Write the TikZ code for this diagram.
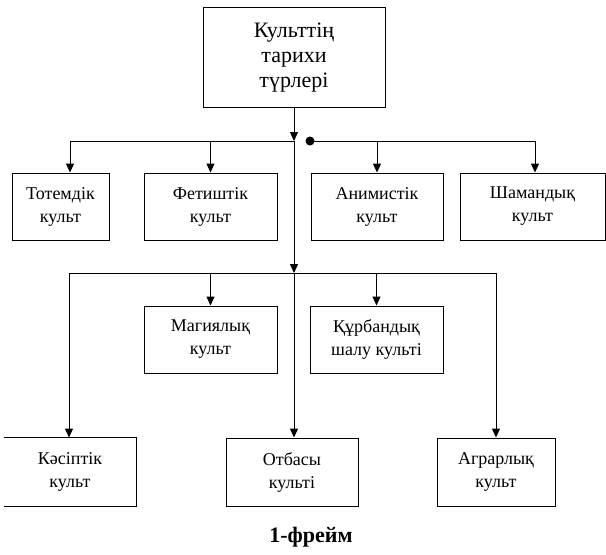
\documentclass[tikz,border=0pt]{standalone}
\usepackage{fontspec}
\setmainfont{Liberation Serif}
\usetikzlibrary{arrows.meta}
\tikzset{
  box/.style={draw, line width=1pt, align=center, inner sep=0pt,
    font=\fontsize{18}{23}\selectfont},
  wire/.style={line width=1pt},
  arr/.style={line width=1pt, -{Triangle[width=8pt,length=9pt]}},
}
\begin{document}
\begin{tikzpicture}[x=1pt,y=-1pt]
\useasboundingbox (0,0) rectangle (606,555);
% top box
\node[box, minimum width=182pt, minimum height=100pt,
  font=\fontsize{22}{25}\selectfont] (top) at (294,57.5) {Культтің\\тарихи\\түрлері};
% upper row
\node[box, minimum width=97pt, minimum height=67pt] (tot) at (60.5,206.5) {Тотемдік\\культ};
\node[box, minimum width=133pt, minimum height=67pt] (fet) at (210.5,206.5) {Фетиштік\\культ};
\node[box, minimum width=132pt, minimum height=67pt] (ani) at (377,206.5) {Анимистік\\культ};
\node[box, minimum width=145pt, minimum height=67pt] (sha) at (532.5,206.5) {Шамандық\\культ};
% middle row
\node[box, minimum width=133pt, minimum height=67pt] (mag) at (210.5,339.5) {Магиялық\\культ};
\node[box, minimum width=133pt, minimum height=67pt] (kur) at (376.5,339.5) {Құрбандық\\шалу культі};
% bottom row
\node[box, draw=none, minimum width=132pt, minimum height=68pt] (kas) at (70,472) {Кәсіптік\\культ};
\draw[wire] (kas.north west) -- (kas.north east) -- (kas.south east) -- (kas.south west);
\node[box, minimum width=132pt, minimum height=68pt] (otb) at (292,472) {Отбасы\\культі};
\node[box, minimum width=118pt, minimum height=68pt] (agr) at (496,472) {Аграрлық\\культ};
% caption
\node[font=\bfseries\fontsize{22}{24}\selectfont] (cap) at (311,537) {1-фрейм};
% junctions
\coordinate (b1) at (294,141);
\coordinate (b1l) at (70,141);
\coordinate (b1r) at (535,141);
\coordinate (b2) at (294,273);
\coordinate (b2l) at (69,273);
\coordinate (b2r) at (496,273);
\node[circle, fill, inner sep=0pt, minimum size=9pt] (dot) at (310,141) {};
% main trunk
\draw[arr] (top.south) -- (b1);
\draw[arr] (b1) -- (b2);
\draw[arr] (b2) -- (b2 |- otb.north);
% upper bus
\draw[wire] (b1l) -- (b1);
\draw[wire] (dot.center) -- (b1r);
\draw[arr] (b1l) -- (b1l |- tot.north);
\draw[arr] (fet.north |- b1) -- (fet.north);
\draw[arr] (ani.north |- b1) -- (ani.north);
\draw[arr] (b1r) -- (b1r |- sha.north);
% lower bus
\draw[wire] (b2l) -- (b2r);
\draw[arr] (b2l) -- (b2l |- kas.north);
\draw[arr] (mag.north |- b2) -- (mag.north);
\draw[arr] (kur.north |- b2) -- (kur.north);
\draw[arr] (b2r) -- (agr.north);
\end{tikzpicture}
\end{document}
